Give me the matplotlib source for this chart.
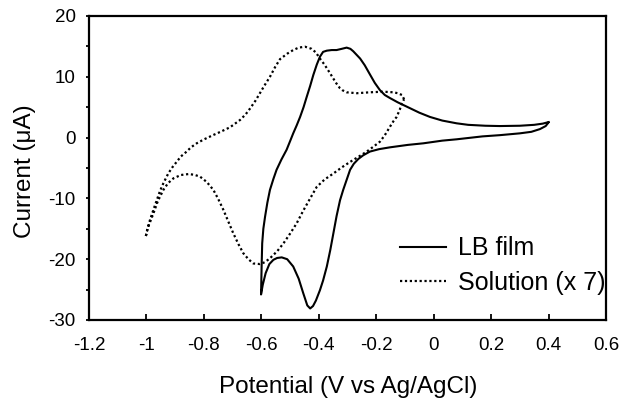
import numpy as np
import matplotlib
matplotlib.use("Agg")
import matplotlib.pyplot as plt
from matplotlib.ticker import MultipleLocator

plt.rcParams['font.family'] = ['Liberation Sans', 'DejaVu Sans']
plt.rcParams['axes.unicode_minus'] = False

# LB film: from the +0.4 V vertex along the lower branch, back along the upper one
lb_x = [0.40, 0.39, 0.37, 0.34, 0.30, 0.23, 0.17, 0.08, 0.03, -0.036, -0.09, -0.152,
        -0.19, -0.222, -0.245, -0.262, -0.278, -0.291, -0.315, -0.326, -0.338, -0.349,
        -0.36, -0.372, -0.385, -0.396, -0.41, -0.42, -0.43, -0.44, -0.454, -0.47,
        -0.489, -0.51, -0.529, -0.545, -0.558, -0.572, -0.585, -0.595, -0.601,
        -0.600, -0.599, -0.597, -0.593, -0.587, -0.579, -0.570, -0.558, -0.547,
        -0.530, -0.512, -0.500, -0.489, -0.477, -0.465, -0.453, -0.442, -0.430,
        -0.419, -0.407, -0.396, -0.385, -0.372, -0.355, -0.338, -0.320, -0.303,
        -0.290, -0.280, -0.268, -0.256, -0.240, -0.222, -0.205, -0.187, -0.170,
        -0.152, -0.125, -0.094, -0.050, -0.013, 0.03, 0.08, 0.12, 0.18, 0.23,
        0.30, 0.35, 0.38, 0.40]
lb_y = [2.5, 1.9, 1.4, 0.95, 0.7, 0.4, 0.2, -0.28, -0.5, -0.94, -1.2, -1.6,
        -1.9, -2.3, -2.9, -3.5, -4.3, -5.3, -8.6, -10.3, -12.9, -15.7,
        -18.5, -21.2, -23.5, -25.1, -26.8, -27.7, -28.1, -27.6, -25.6, -23.2,
        -21.2, -20.0, -19.7, -19.8, -20.1, -20.8, -22.3, -24.2, -25.8,
        -23.5, -21.2, -17.4, -15.0, -13.0, -10.7, -8.6, -6.8, -5.3,
        -3.6, -2.0, -0.6, 0.7, 2.0, 3.4, 5.0, 6.7, 8.5,
        10.3, 12.0, 13.3, 14.1, 14.3, 14.4, 14.4, 14.6, 14.8,
        14.6, 14.2, 13.6, 13.0, 11.9, 10.4, 9.0, 7.8, 7.0,
        6.5, 5.8, 5.1, 4.1, 3.4, 2.8, 2.35, 2.1, 1.95, 1.9,
        1.95, 2.1, 2.3, 2.55]

# Solution (x 7): from the -0.1 V vertex along the upper branch, back along the lower one
sol_x = [-0.103, -0.110, -0.125, -0.140, -0.175, -0.222, -0.268, -0.303, -0.318,
         -0.326, -0.340, -0.361, -0.380, -0.396, -0.410, -0.425, -0.448, -0.470,
         -0.489, -0.510, -0.535, -0.552, -0.570, -0.590, -0.605, -0.620, -0.639,
         -0.655, -0.674, -0.709, -0.740, -0.767, -0.800, -0.825, -0.845, -0.860,
         -0.880, -0.895, -0.910, -0.924, -0.941, -0.953, -0.964, -0.976, -0.988,
         -0.997, -1.003,
         -0.995, -0.985, -0.976, -0.960, -0.941, -0.925, -0.906, -0.880, -0.854,
         -0.835, -0.814, -0.790, -0.767, -0.750, -0.732, -0.715, -0.698, -0.680,
         -0.663, -0.645, -0.628, -0.605, -0.588, -0.570, -0.545, -0.523, -0.500,
         -0.477, -0.455, -0.430, -0.407, -0.380, -0.349, -0.320, -0.291, -0.260,
         -0.233, -0.210, -0.187, -0.170, -0.152, -0.140, -0.129, -0.118, -0.111,
         -0.103]
sol_y = [6.3, 7.0, 7.3, 7.45, 7.55, 7.45, 7.3, 7.45, 7.8,
         8.1, 9.0, 10.6, 12.0, 13.0, 14.0, 14.6, 14.95, 14.8,
         14.4, 13.8, 12.9, 11.6, 10.0, 8.5, 7.3, 6.1, 4.8,
         3.8, 2.9, 1.7, 1.0, 0.43, -0.3, -0.94, -1.6, -2.3,
         -3.1, -4.0, -4.9, -5.9, -7.5, -8.8, -10.3, -11.9, -13.6,
         -15.1, -16.4,
         -14.8, -13.6, -12.5, -10.4, -8.6, -7.5, -6.7, -6.15, -6.0,
         -6.1, -6.4, -7.3, -8.6, -10.1, -11.9, -13.8, -15.7, -17.5,
         -19.0, -20.0, -20.7, -20.8, -20.5, -19.85, -18.7, -17.4, -15.8,
         -14.1, -12.1, -10.0, -8.1, -6.9, -5.9, -4.9, -4.0, -3.1,
         -2.3, -1.5, -0.67, 0.4, 1.8, 2.7, 3.4, 4.6, 5.6,
         6.3]

x_ticks = [-1.2, -1.0, -0.8, -0.6, -0.4, -0.2, 0.0, 0.2, 0.4, 0.6]
x_labels = ['-1.2', '-1', '-0.8', '-0.6', '-0.4', '-0.2', '0', '0.2', '0.4', '0.6']
y_ticks = [-30, -20, -10, 0, 10, 20]

fig = plt.figure(figsize=(6.21, 3.98), dpi=100)
ax = fig.add_axes([89 / 621, 78 / 398, 517 / 621, 304 / 398])

ax.plot(lb_x, lb_y, color='black', lw=1.5, solid_joinstyle='round', label='LB film')
ax.plot(sol_x, sol_y, color='black', lw=1.6, linestyle=(0, (1, 1.2)), label='Solution (x 7)')

ax.set_xlim(-1.2, 0.6)
ax.set_ylim(-30, 20)
ax.set_xticks(x_ticks)
ax.set_xticklabels(x_labels)
ax.set_yticks(y_ticks)
ax.yaxis.set_minor_locator(MultipleLocator(5))

ax.tick_params(axis='x', direction='in', length=4.3, width=1.3, pad=12, labelsize=13.5)
ax.tick_params(axis='y', which='both', direction='out', length=2.2, width=1.3, pad=7.5, labelsize=13.5)
for s in ax.spines.values():
    s.set_linewidth(1.6)

ax.set_xlabel('Potential (V vs Ag/AgCl)', fontsize=17.5)
ax.xaxis.set_label_coords(0.502, -0.24)
ax.xaxis.label.set_verticalalignment('baseline')
ax.set_ylabel('Current (μA)', fontsize=17.5)
ax.yaxis.set_label_coords(-0.1025, 0.49)

ax.legend(loc='lower right', bbox_to_anchor=(1.0, 0.083), frameon=False, fontsize=18,
          handlelength=1.85, handletextpad=0.5, labelspacing=0.42, borderpad=0,
          borderaxespad=0)

fig.savefig('out.png', dpi=100)
